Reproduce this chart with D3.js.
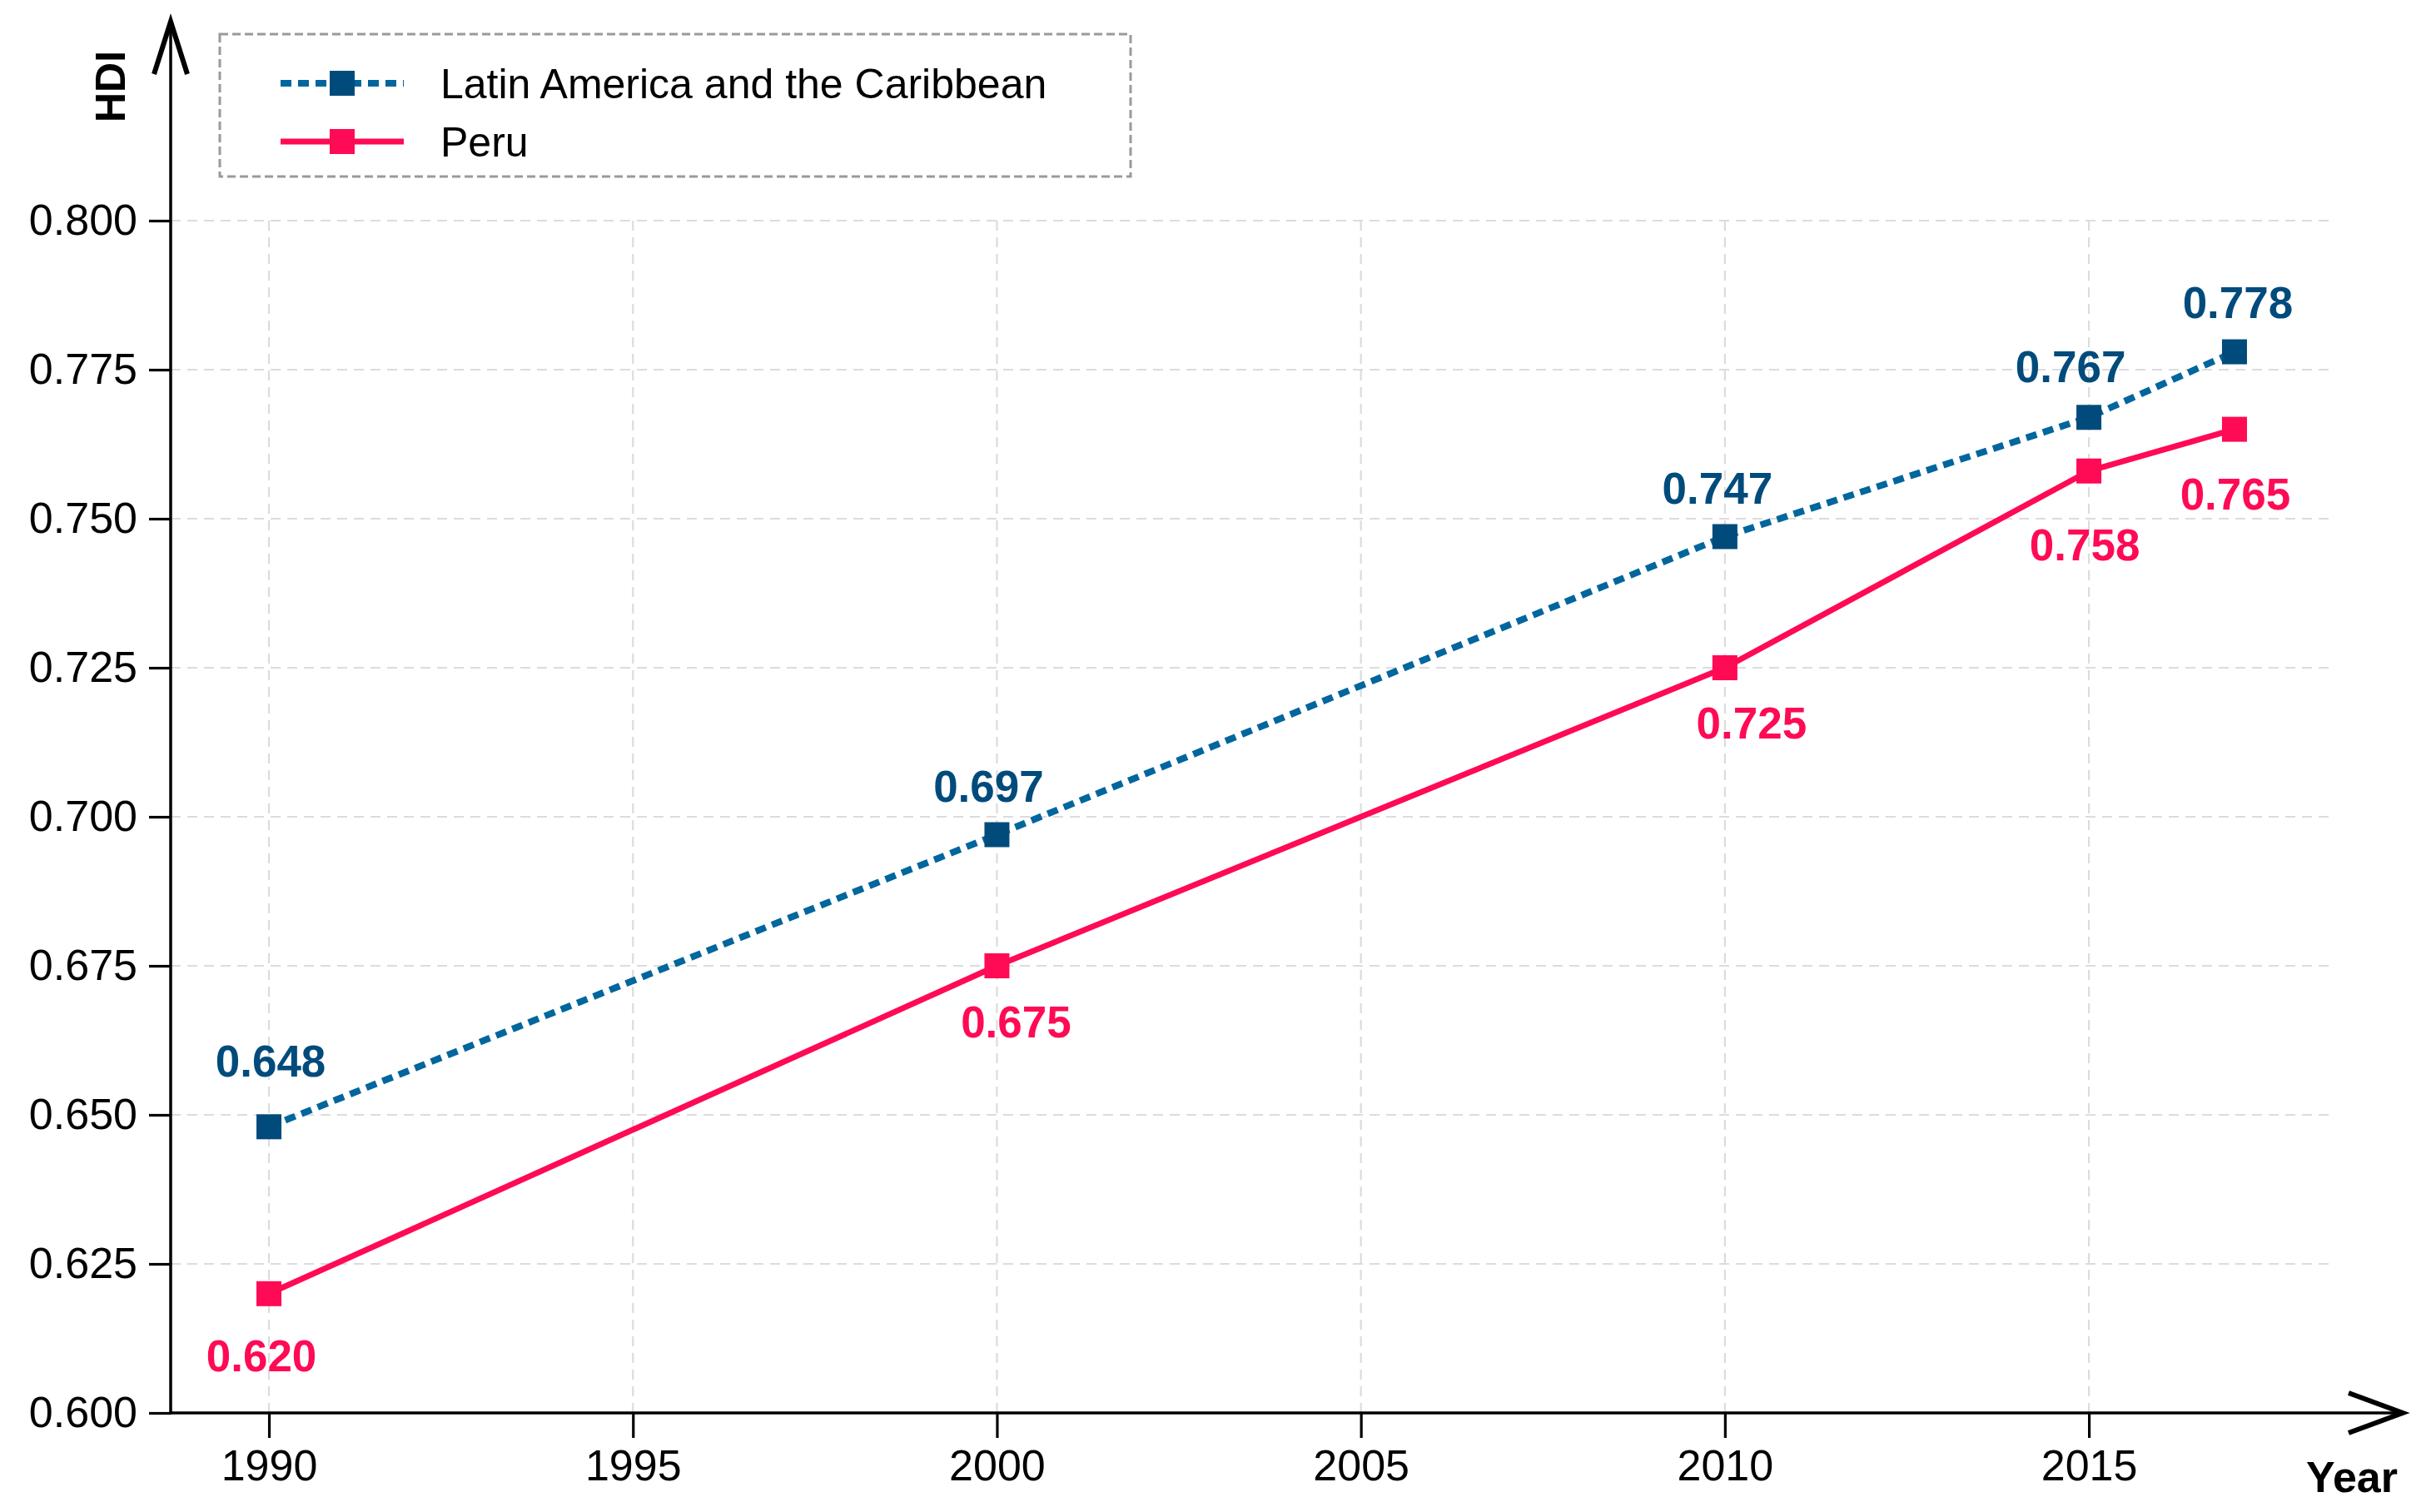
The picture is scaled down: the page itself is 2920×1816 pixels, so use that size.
<!DOCTYPE html>
<html>
<head>
<meta charset="utf-8">
<script src="https://cdn.jsdelivr.net/npm/d3@7"></script>
<style>
  html, body { margin: 0; padding: 0; background: #ffffff; }
  svg { display: block; }
  text { font-family: "Liberation Sans", Arial, Helvetica, sans-serif; }
</style>
</head>
<body>
<svg id="chart" width="2920" height="1816"></svg>
<script>
// ---- data ----
const years = [1990, 2000, 2010, 2015, 2017];
const latamValues = [0.648, 0.697, 0.747, 0.767, 0.778];
const peruValues = [0.620, 0.675, 0.725, 0.758, 0.765];
const seriesNames = ["Latin America and the Caribbean", "Peru"];
const xTickValues = [1990, 1995, 2000, 2005, 2010, 2015];
const yTickValues = [0.600, 0.625, 0.650, 0.675, 0.700, 0.725, 0.750, 0.775, 0.800];
const xAxisTitle = "Year";
const yAxisTitle = "HDI";

// ---- layout (label nudges in px, relative to the marker) ----
const latamNudge = [[2, -60], [-10, -39], [-9, -39], [-22, -42], [4, -41]];
const peruNudge = [[-9, 93], [23, 86], [32, 85], [-5, 107], [1, 96]];

const W = 2920, H = 1816;
const colors = {
  latamLine: "#00669d",
  latamMark: "#004b7c",
  peru: "#ff0a54",
  grid: "#dcdcdc",
  axis: "#000000"
};

const svg = d3.select("#chart");
svg.append("rect").attr("width", W).attr("height", H).attr("fill", "#fff");

const x = d3.scaleLinear().domain([1988.65, 2018.35]).range([205, 2802]);
const y = d3.scaleLinear().domain([0.6, 0.8]).range([1697, 265]);

// ---- grid ----
const grid = svg.append("g").attr("class", "grid");
grid.selectAll("line.h").data(yTickValues.filter(v => v > 0.6001)).enter().append("line")
  .attr("x1", x.range()[0]).attr("x2", x.range()[1])
  .attr("y1", d => y(d)).attr("y2", d => y(d))
  .attr("stroke", colors.grid).attr("stroke-width", 2.2).attr("stroke-dasharray", "12,8");
grid.selectAll("line.v").data(xTickValues).enter().append("line")
  .attr("x1", d => x(d)).attr("x2", d => x(d))
  .attr("y1", y.range()[1]).attr("y2", y.range()[0])
  .attr("stroke", colors.grid).attr("stroke-width", 2.2).attr("stroke-dasharray", "12,8");

// ---- axes ----
const fmt = d3.format(".3f");
const yAxis = svg.append("g").attr("transform", `translate(${x.range()[0]},0)`)
  .call(d3.axisLeft(y).tickValues(yTickValues).tickFormat(fmt).tickSize(26).tickSizeOuter(0).tickPadding(14));
yAxis.select(".domain").remove();
yAxis.selectAll(".tick line").attr("stroke", colors.axis).attr("stroke-width", 3.2);
yAxis.selectAll(".tick text").attr("font-size", 52).attr("fill", "#000");

const xAxis = svg.append("g").attr("transform", `translate(0,${y.range()[0]})`)
  .call(d3.axisBottom(x).tickValues(xTickValues).tickFormat(d3.format("d")).tickSize(30).tickSizeOuter(0).tickPadding(14));
xAxis.select(".domain").remove();
xAxis.selectAll(".tick line").attr("stroke", colors.axis).attr("stroke-width", 3.2);
xAxis.selectAll(".tick text").attr("font-size", 52).attr("fill", "#000");

// spines with arrows
const x0 = x.range()[0], y0 = y.range()[0];
svg.append("line").attr("x1", x0).attr("x2", x0).attr("y1", y0 + 1.6).attr("y2", 28)
  .attr("stroke", colors.axis).attr("stroke-width", 3.5);
svg.append("path").attr("d", `M${x0 - 20},89 L${x0},26 L${x0 + 20},89`)
  .attr("fill", "none").attr("stroke", colors.axis).attr("stroke-width", 6).attr("stroke-linejoin", "miter");
svg.append("line").attr("x1", x0 - 1.6).attr("x2", 2884).attr("y1", y0).attr("y2", y0)
  .attr("stroke", colors.axis).attr("stroke-width", 3.5);
svg.append("path").attr("d", `M2821,${y0 - 24} L2886,${y0} L2821,${y0 + 24}`)
  .attr("fill", "none").attr("stroke", colors.axis).attr("stroke-width", 6).attr("stroke-linejoin", "miter");

// axis titles
svg.append("text").attr("transform", "translate(150,104) rotate(-90)")
  .attr("text-anchor", "middle").attr("font-size", 50).attr("font-weight", "bold").attr("fill", "#000")
  .text(yAxisTitle);
svg.append("text").attr("x", 2880).attr("y", 1792).attr("text-anchor", "end")
  .attr("font-size", 52).attr("font-weight", "bold").attr("fill", "#000").text(xAxisTitle);

// ---- series ----
const latam = years.map((yr, i) => ({ x: yr, y: latamValues[i], n: latamNudge[i] }));
const peru = years.map((yr, i) => ({ x: yr, y: peruValues[i], n: peruNudge[i] }));
const lineGen = d3.line().x(d => x(d.x)).y(d => y(d.y));

svg.append("path").datum(peru).attr("d", lineGen).attr("fill", "none")
  .attr("stroke", colors.peru).attr("stroke-width", 7).attr("stroke-linejoin", "round");
svg.append("path").datum(latam).attr("d", lineGen).attr("fill", "none")
  .attr("stroke", colors.latamLine).attr("stroke-width", 8).attr("stroke-dasharray", "13,8");

const M = 30;
svg.append("g").selectAll("rect").data(peru).enter().append("rect")
  .attr("x", d => x(d.x) - M / 2).attr("y", d => y(d.y) - M / 2)
  .attr("width", M).attr("height", M).attr("fill", colors.peru);
svg.append("g").selectAll("rect").data(latam).enter().append("rect")
  .attr("x", d => x(d.x) - M / 2).attr("y", d => y(d.y) - M / 2)
  .attr("width", M).attr("height", M).attr("fill", colors.latamMark);

// value labels
svg.append("g").selectAll("text").data(latam).enter().append("text")
  .attr("x", d => x(d.x) + d.n[0]).attr("y", d => y(d.y) + d.n[1])
  .attr("text-anchor", "middle").attr("font-size", 53).attr("font-weight", "bold")
  .attr("fill", colors.latamMark).text(d => fmt(d.y));
svg.append("g").selectAll("text").data(peru).enter().append("text")
  .attr("x", d => x(d.x) + d.n[0]).attr("y", d => y(d.y) + d.n[1])
  .attr("text-anchor", "middle").attr("font-size", 53).attr("font-weight", "bold")
  .attr("fill", colors.peru).text(d => fmt(d.y));

// ---- legend ----
const lg = svg.append("g");
lg.append("rect").attr("x", 264).attr("y", 41).attr("width", 1094).attr("height", 171)
  .attr("fill", "#fff").attr("stroke", "#9a9a9a").attr("stroke-width", 3).attr("stroke-dasharray", "10,5");
const legendItems = [
  { name: seriesNames[0], line: colors.latamLine, mark: colors.latamMark, dash: "13,8", w: 8, cy: 100 },
  { name: seriesNames[1], line: colors.peru, mark: colors.peru, dash: null, w: 7, cy: 170 }
];
legendItems.forEach(it => {
  lg.append("line").attr("x1", 337).attr("x2", 485).attr("y1", it.cy).attr("y2", it.cy)
    .attr("stroke", it.line).attr("stroke-width", it.w).attr("stroke-dasharray", it.dash);
  lg.append("rect").attr("x", 411 - M / 2).attr("y", it.cy - M / 2).attr("width", M).attr("height", M)
    .attr("fill", it.mark);
  lg.append("text").attr("x", 529).attr("y", it.cy).attr("dy", "0.35em")
    .attr("font-size", 50).attr("fill", "#000").text(it.name);
});
</script>
</body>
</html>
